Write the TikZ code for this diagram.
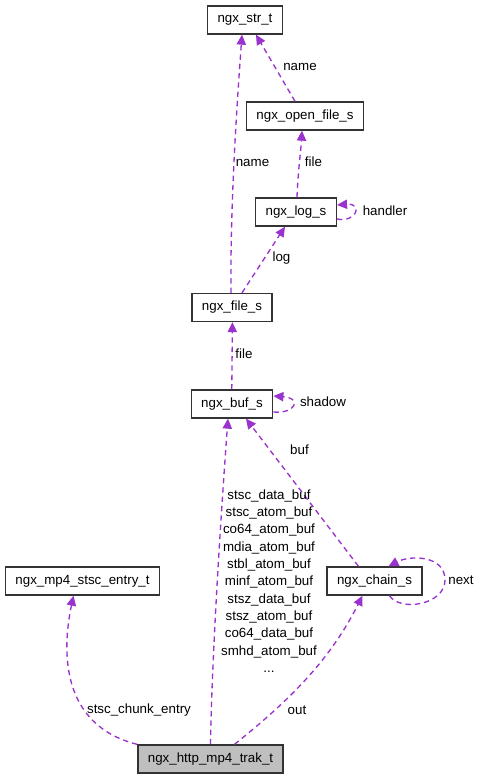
\documentclass[tikz,border=0pt]{standalone}
\usepackage{fontspec}
\setmainfont{Liberation Sans}
\usepackage{tikz}
\usetikzlibrary{arrows.meta, calc}
\definecolor{relcolor}{HTML}{9A32CD}
\tikzset{
  klass/.style = {draw=black!80, line width=1pt, fill=white, minimum height=21pt,
                  inner xsep=7.5pt, inner ysep=0pt, font=\fontsize{10}{12}\selectfont},
  raiz/.style  = {klass, fill=black!25},
  rel/.style   = {-{Triangle[length=7.5pt, width=7pt]}, relcolor, line width=1pt,
                  dash pattern=on 4pt off 3pt},
  etiq/.style  = {font=\fontsize{10}{13}\selectfont, inner sep=0pt, align=center}
}

\begin{document}
\begin{tikzpicture}[x=0.75pt, y=-0.75pt]
  \useasboundingbox (0,0) rectangle (480,779);

  % clases
  \node[klass] (str)   at (245,20)    {ngx\_str\_t};
  \node[klass] (open)  at (305,116)   {ngx\_open\_file\_s};
  \node[klass] (log)   at (296,212)   {ngx\_log\_s};
  \node[klass] (file)  at (232,307.5) {ngx\_file\_s};
  \node[klass] (buf)   at (232,404)   {ngx\_buf\_s};
  \node[klass] (stsc)  at (82.5,581)  {ngx\_mp4\_stsc\_entry\_t};
  \node[klass] (chain) at (374.5,581) {ngx\_chain\_s};
  \node[raiz]  (trak)  at (210.5,759) {ngx\_http\_mp4\_trak\_t};

  % relaciones
  \draw[rel] ($(file.north)+(-1,0)$) .. controls (230,200) and (238,90) .. ($(str.south)+(-3,0)$);
  \draw[rel] ($(open.north)+(-10,0)$) -- ($(str.south)+(11,0)$);
  \draw[rel] ($(log.north)+(1,0)$) .. controls (298,170) and (301,150) .. ($(open.south)+(-3,0)$);
  \draw[rel] ($(log.east)+(0,7)$) .. controls (356,223) and (364,203) .. ($(log.east)+(0,-7)$);
  \draw[rel] ($(file.north)+(10,0)$) -- ($(log.south)+(-11,0)$);
  \draw[rel] ($(buf.north)+(-0.2,0)$) -- ($(file.south)+(0.4,0)$);
  \draw[rel] ($(buf.east)+(0,8)$) .. controls (296,414) and (302,398) .. ($(buf.east)+(0,-8)$);
  \draw[rel] ($(chain.north)+(-16,0)$) -- ($(buf.south)+(14,0)$);
  \draw[rel] ($(chain.south)+(15,0)$) .. controls (400,612) and (445,605) .. (445,580)
             .. controls (445,555) and (410,555) .. ($(chain.north)+(14,0)$);
  \draw[rel] (trak.north) .. controls (212,650) and (222,500) .. ($(buf.south)+(-4,0)$);
  \draw[rel] (trak.north west) .. controls (60,725) and (62,650) .. ($(stsc.south)+(-9,0)$);
  \draw[rel] ($(trak.north)+(24,0)$) .. controls (290,700) and (330,660) .. ($(chain.south)+(-12,0)$);

  % etiquetas
  \node[etiq] (lname1)   at (252.5,163) {name};
  \node[etiq] (lname2)   at (300,67)    {name};
  \node[etiq] (lfile1)   at (313.5,162) {file};
  \node[etiq] (lhandler) at (385,211)   {handler};
  \node[etiq] (llog)     at (281.5,258) {log};
  \node[etiq] (lfile2)   at (244,354)   {file};
  \node[etiq] (lshadow)  at (323,402)   {shadow};
  \node[etiq] (lbuf)     at (299.5,450) {buf};
  \node[etiq] (lnext)    at (461,580)   {next};
  \node[etiq] (lbufs)    at (269,581)   {stsc\_data\_buf\\stsc\_atom\_buf\\co64\_atom\_buf\\mdia\_atom\_buf\\stbl\_atom\_buf\\minf\_atom\_buf\\stsz\_data\_buf\\stsz\_atom\_buf\\co64\_data\_buf\\smhd\_atom\_buf\\...};
  \node[etiq] (lentry)   at (139,710)   {stsc\_chunk\_entry};
  \node[etiq] (lout)     at (297,710)   {out};
\end{tikzpicture}
\end{document}
